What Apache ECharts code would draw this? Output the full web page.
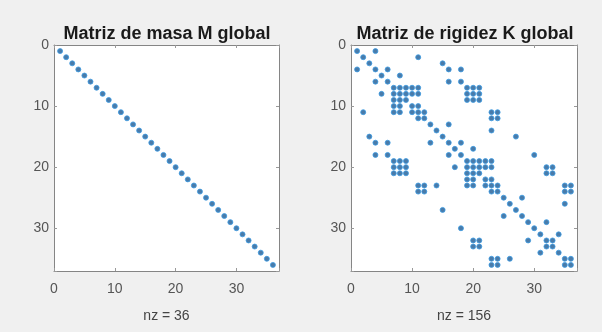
<!DOCTYPE html>
<html>
<head>
<meta charset="utf-8">
<script src="https://cdn.jsdelivr.net/npm/echarts@6/dist/echarts.min.js"></script>
<style>
  html, body { margin: 0; padding: 0; background: #f0f0f0; }
  #chart { width: 602px; height: 332px; }
</style>
</head>
<body>
<div id="chart"></div>
<script>
// axis range of a spy plot: 0 .. n+1
const axisMax = 37;
const tickValues = [0, 10, 20, 30];

// mass matrix: only the diagonal is nonzero
const massDiag = [1, 2, 3, 4, 5, 6, 7, 8, 9, 10, 11, 12, 13, 14, 15, 16, 17, 18,
  19, 20, 21, 22, 23, 24, 25, 26, 27, 28, 29, 30, 31, 32, 33, 34, 35, 36];

// stiffness matrix: diagonal + upper triangle [row, col] (mirrored below)
const stiffDiag = [1, 2, 3, 4, 5, 6, 7, 8, 9, 10, 11, 12, 13, 14, 15, 16, 17, 18,
  19, 20, 21, 22, 23, 24, 25, 26, 27, 28, 29, 30, 31, 32, 33, 34, 35, 36];
const stiffUpper = [
  [1, 4], [2, 11], [3, 15], [4, 6], [4, 16], [4, 18], [5, 8], [6, 16], [6, 18],
  [7, 8], [7, 9], [7, 10], [7, 11], [8, 9], [8, 10], [8, 11],
  [7, 19], [7, 20], [7, 21], [8, 19], [8, 20], [8, 21], [9, 19], [9, 20], [9, 21],
  [10, 11], [11, 12],
  [11, 23], [11, 24], [12, 23], [12, 24],
  [13, 16], [14, 23], [15, 27], [16, 18], [17, 20], [18, 30],
  [19, 20], [19, 21], [19, 22], [19, 23], [20, 21], [20, 22], [20, 23],
  [20, 32], [20, 33], [21, 32], [21, 33],
  [22, 23], [23, 24],
  [23, 35], [23, 36], [24, 35], [24, 36],
  [25, 28], [26, 35], [29, 32], [31, 34], [32, 33], [35, 36]
];

const massPoints = massDiag.map((d) => [d, d]);
const stiffPoints = stiffDiag.map((d) => [d, d]);
stiffUpper.forEach(([r, c]) => {
  stiffPoints.push([c, r]);
  stiffPoints.push([r, c]);
});

const chart = echarts.init(document.getElementById("chart"));
const font = "Liberation Sans, Arial, sans-serif";

function labelStyle(margin) {
  return {
    color: "#555",
    fontSize: 14,
    fontFamily: font,
    margin: margin,
    formatter: (v) => (tickValues.includes(v) ? String(v) : ""),
  };
}

function makeX(gridIndex, position, name) {
  return {
    type: "value",
    gridIndex: gridIndex,
    position: position,
    min: 0,
    max: axisMax,
    interval: 10,
    axisLine: { show: true, onZero: false, lineStyle: { color: "#858585", width: 1 } },
    axisTick: { show: true, inside: true, length: 3, lineStyle: { color: "#999" } },
    splitLine: { show: false },
    axisLabel: position === "bottom" ? labelStyle(11) : { show: false },
    name: name,
    nameLocation: "middle",
    nameGap: 38,
    nameTextStyle: { color: "#444", fontSize: 14, fontFamily: font },
  };
}
function makeY(gridIndex, position) {
  return {
    type: "value",
    gridIndex: gridIndex,
    position: position,
    inverse: true,
    min: 0,
    max: axisMax,
    interval: 10,
    axisLine: { show: true, onZero: false, lineStyle: { color: "#858585", width: 1 } },
    axisTick: { show: true, inside: true, length: 3, lineStyle: { color: "#999" } },
    splitLine: { show: false },
    axisLabel: position === "left" ? labelStyle(5) : { show: false },
  };
}

const dotStyle = {
  color: "#1d5a94",
  borderColor: "#3b9be3",
  borderWidth: 1,
};

const titleStyle = { fontSize: 18, fontWeight: "bold", color: "#1a1a1a", fontFamily: font };

const option = {
  backgroundColor: "#f0f0f0",
  animation: false,
  title: [
    { text: "Matriz de masa M global", left: 162, top: 20, textAlign: "center", textStyle: titleStyle },
    { text: "Matriz de rigidez K global", left: 460, top: 20, textAlign: "center", textStyle: titleStyle },
  ],
  grid: [
    { left: 54, top: 45, width: 225, height: 226, show: true, backgroundColor: "#fff", borderWidth: 0 },
    { left: 351, top: 45, width: 226, height: 226, show: true, backgroundColor: "#fff", borderWidth: 0 },
  ],
  xAxis: [
    makeX(0, "bottom", "nz = 36"),
    makeX(0, "top", ""),
    makeX(1, "bottom", "nz = 156"),
    makeX(1, "top", ""),
  ],
  yAxis: [
    makeY(0, "left"),
    makeY(0, "right"),
    makeY(1, "left"),
    makeY(1, "right"),
  ],
  series: [
    {
      type: "scatter",
      xAxisIndex: 0,
      yAxisIndex: 0,
      symbol: "circle",
      symbolSize: 5,
      itemStyle: dotStyle,
      data: massPoints,
    },
    {
      type: "scatter",
      xAxisIndex: 2,
      yAxisIndex: 2,
      symbol: "circle",
      symbolSize: 5,
      itemStyle: dotStyle,
      data: stiffPoints,
    },
  ],
};

chart.setOption(option);
</script>
</body>
</html>
